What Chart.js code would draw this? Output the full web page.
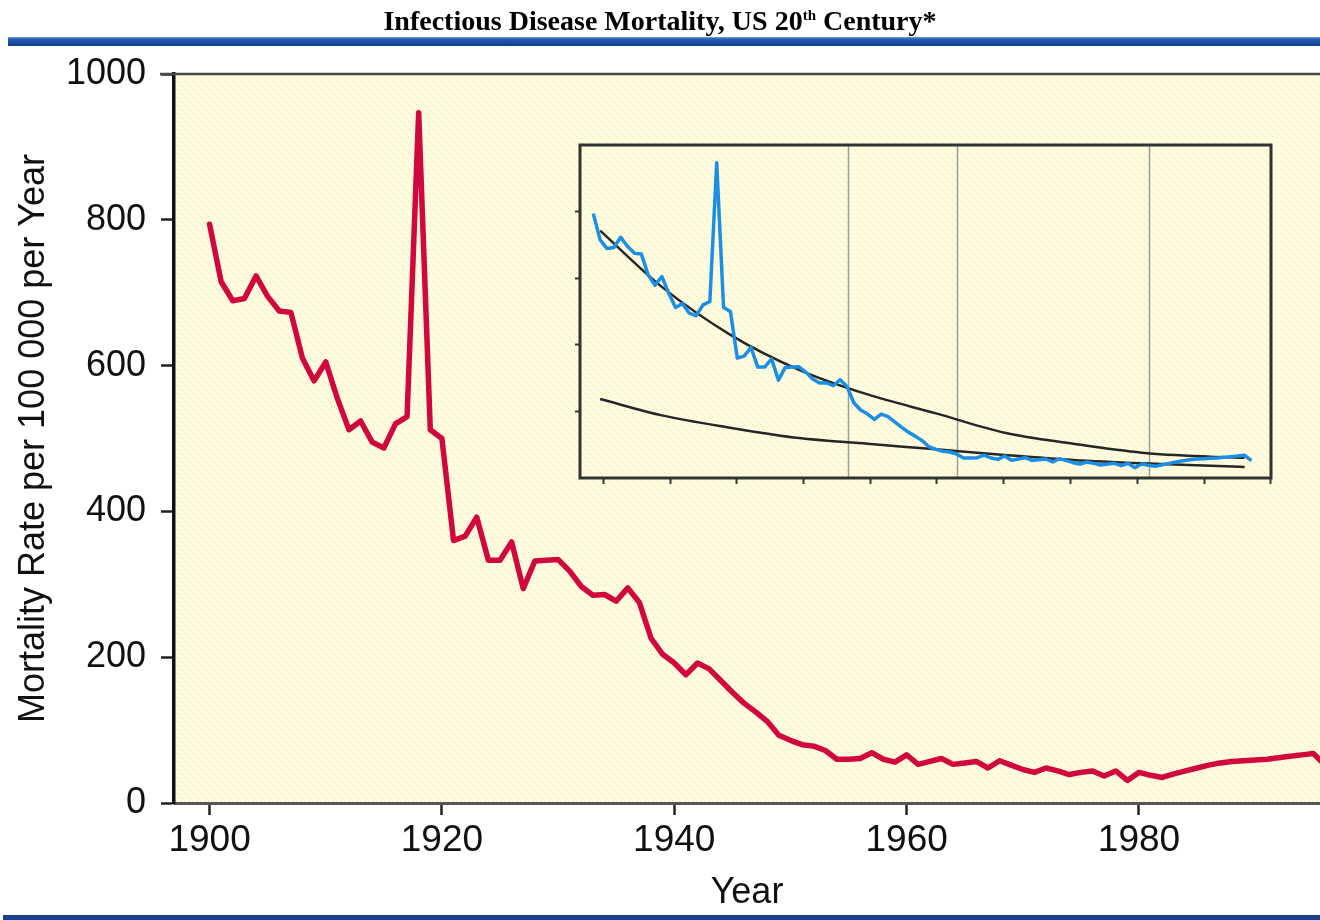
<!DOCTYPE html>
<html>
<head>
<meta charset="utf-8">
<script src="https://cdn.jsdelivr.net/npm/chart.js@4.4.1/dist/chart.umd.min.js"></script>
<style>
  html, body { margin: 0; padding: 0; background: #ffffff; width: 1320px; height: 920px; overflow: hidden; }
  #wrap { position: relative; width: 1320px; height: 920px; }
  #main { position: absolute; left: 0; top: 0; }
  #inset { position: absolute; left: 560px; top: 130px; }
  #title { position: absolute; left: 0; top: 5px; width: 1320px; text-align: center;
           font: bold 28px "Liberation Serif", "Times New Roman", serif; color: #000; line-height: 32px; }
  #title sup { font-size: 15px; line-height: 0; vertical-align: 10px; }
  #topbar { position: absolute; left: 8px; right: 0; top: 37px; height: 9px;
            background: linear-gradient(#7a9ed8 0, #2d5fba 22%, #1a4aa3 60%, #0f3b8e 100%); }
  #botbar { position: absolute; left: 3px; right: 0; top: 915px; height: 5px; background: #1c3f8e; }
</style>
</head>
<body>
<div id="wrap">
  <canvas id="main" width="1320" height="920"></canvas>
  <canvas id="inset" width="740" height="370"></canvas>
  <div id="title">Infectious Disease Mortality, US 20<sup>th</sup> Century*</div>
  <div id="topbar"></div>
  <div id="botbar"></div>
</div>
<script>
// ---------- data ----------
const years = [1900,1901,1902,1903,1904,1905,1906,1907,1908,1909,
               1910,1911,1912,1913,1914,1915,1916,1917,1918,1919,
               1920,1921,1922,1923,1924,1925,1926,1927,1928,1929,
               1930,1931,1932,1933,1934,1935,1936,1937,1938,1939,
               1940,1941,1942,1943,1944,1945,1946,1947,1948,1949,
               1950,1951,1952,1953,1954,1955,1956,1957,1958,1959,
               1960,1961,1962,1963,1964,1965,1966,1967,1968,1969,
               1970,1971,1972,1973,1974,1975,1976,1977,1978,1979,
               1980,1981,1982,1983,1984,1985,1986,1987,1988,1989,
               1990,1991,1992,1993,1994,1995,1996];
const mortality = [794,715,689,692,723,695,675,673,610,579,
                   605,555,512,524,495,487,520,530,947,512,
                   500,360,366,392,333,333,358,294,332,333,
                   334,318,297,285,286,277,295,275,226,204,
                   192,176,192,184,168,152,137,125,112,93,
                   86,80,78,72,60,60,61,69,60,56,
                   66,53,57,61,53,55,57,48,58,52,
                   46,42,48,44,39,42,44,37,44,31,
                   42,38,35,40,44,48,52,55,57,58,
                   59,60,62,64,66,68,52];
const xTickYears = [1900, 1920, 1940, 1960, 1980];
const yTickValues = [0, 200, 400, 600, 800, 1000];

// inset: fitted trend curves
const fitYears   = [1901, 1910, 1920, 1930, 1940, 1950, 1960, 1970, 1980, 1990, 1995];
const fitUpper   = [743, 574, 430, 325, 251, 194, 136, 103, 76, 64, 61];
const fitLower   = [237, 188, 151, 120, 103, 86, 69, 54, 44, 37, 33];
const insetTickYears = [1901.5, 1911.2, 1920.9, 1930.6, 1940.4, 1950.1, 1959.8, 1969.6, 1979.4, 1989.1, 1998.8];
const insetYTicks = [200, 400, 600, 800];
const insetMarkerYears = [1937.1, 1953.1, 1981.0];

// ---------- helpers ----------
const SANS = '"Liberation Sans", Arial, Helvetica, sans-serif';
function pts(xs, ys) { return xs.map((x, i) => ({ x: x, y: ys[i] })); }

function makePattern() {
  const c = document.createElement('canvas');
  c.width = 8; c.height = 8;
  const g = c.getContext('2d');
  g.fillStyle = '#fffedc';
  g.fillRect(0, 0, 8, 8);
  g.fillStyle = '#fbd3dc';
  [[0,0],[2,2],[5,1],[3,5],[6,6]].forEach(p => g.fillRect(p[0], p[1], 1, 1));
  return g.createPattern(c, 'repeat');
}
const pattern = makePattern();

const bgPlugin = {
  id: 'bgPlugin',
  beforeDraw(chart) {
    const { ctx, chartArea: a } = chart;
    ctx.save();
    ctx.fillStyle = pattern;
    ctx.fillRect(a.left, a.top, a.right - a.left, a.bottom - a.top);
    ctx.restore();
  },
  afterDraw(chart) {
    const { ctx, chartArea: a } = chart;
    ctx.save();
    ctx.strokeStyle = '#4a4a4a';
    ctx.lineWidth = 2.5;
    ctx.beginPath();
    ctx.moveTo(a.left - 14, a.top);
    ctx.lineTo(a.right, a.top);
    ctx.stroke();
    ctx.restore();
  }
};

new Chart(document.getElementById('main'), {
  type: 'line',
  data: {
    datasets: [{
      data: pts(years, mortality),
      borderColor: '#d0083d',
      borderWidth: 5.5,
      pointRadius: 0,
      tension: 0,
      borderJoinStyle: 'round',
      borderCapStyle: 'round'
    }]
  },
  options: {
    responsive: false,
    animation: false,
    devicePixelRatio: 1,
    layout: { padding: { top: 74, right: 0, left: 0, bottom: 0 } },
    plugins: { legend: { display: false }, tooltip: { enabled: false } },
    scales: {
      x: {
        type: 'linear',
        min: 1896.94,
        max: 1995.58,
        afterBuildTicks: s => { s.ticks = xTickYears.map(v => ({ value: v })); },
        afterFit: s => { s.height = 117; },
        ticks: { font: { family: SANS, size: 37 }, color: '#111', padding: 4, maxRotation: 0, autoSkip: false,
                 callback: v => String(v) },
        grid: { drawOnChartArea: false, drawTicks: true, tickLength: 12, tickWidth: 2.5, tickColor: '#222' },
        border: { display: true, color: '#555', width: 3 },
        title: { display: true, text: 'Year', font: { family: SANS, size: 36 }, color: '#111',
                 padding: { top: 0, bottom: 5 } }
      },
      y: {
        type: 'linear',
        min: 0,
        max: 1000,
        afterBuildTicks: s => { s.ticks = yTickValues.map(v => ({ value: v })); },
        afterFit: s => { s.width = 174; },
        ticks: { font: { family: SANS, size: 36 }, color: '#111', padding: 15, callback: v => String(v) },
        grid: { drawOnChartArea: false, drawTicks: true, tickLength: 13, tickWidth: 2.5, tickColor: '#222' },
        border: { display: true, color: '#111', width: 3.5 },
        title: { display: true, text: 'Mortality Rate per 100 000 per Year', font: { family: SANS, size: 36 },
                 color: '#111', padding: { top: 12, bottom: 0 } }
      }
    }
  },
  plugins: [bgPlugin]
});

// ---------- inset ----------
const insetPlugin = {
  id: 'insetPlugin',
  beforeDatasetsDraw(chart) {
    const { ctx, chartArea: a, scales } = chart;
    ctx.save();
    ctx.strokeStyle = '#93a19d';
    ctx.lineWidth = 1.5;
    insetMarkerYears.forEach(yr => {
      const px = Math.round(scales.x.getPixelForValue(yr)) + 0.5;
      ctx.beginPath();
      ctx.moveTo(px, a.top);
      ctx.lineTo(px, a.bottom);
      ctx.stroke();
    });
    ctx.restore();
  },
  afterDraw(chart) {
    const { ctx, chartArea: a } = chart;
    ctx.save();
    ctx.strokeStyle = '#333';
    ctx.lineWidth = 3;
    ctx.strokeRect(a.left, a.top, a.right - a.left, a.bottom - a.top);
    ctx.restore();
  }
};

new Chart(document.getElementById('inset'), {
  type: 'line',
  data: {
    datasets: [
      { data: pts(years, mortality), borderColor: '#1a8fe3', borderWidth: 3.5, pointRadius: 0, tension: 0,
        borderJoinStyle: 'round' },
      { data: pts(fitYears, fitUpper), borderColor: '#262626', borderWidth: 2.5, pointRadius: 0,
        cubicInterpolationMode: 'monotone' },
      { data: pts(fitYears, fitLower), borderColor: '#262626', borderWidth: 2.5, pointRadius: 0,
        cubicInterpolationMode: 'monotone' }
    ]
  },
  options: {
    responsive: false,
    animation: false,
    devicePixelRatio: 1,
    layout: { padding: { left: 15, top: 15, right: 29, bottom: 16 } },
    plugins: { legend: { display: false }, tooltip: { enabled: false } },
    scales: {
      x: {
        type: 'linear', min: 1898.06, max: 1998.85,
        afterBuildTicks: s => { s.ticks = insetTickYears.map(v => ({ value: v })); },
        afterFit: s => { s.height = 6; },
        ticks: { display: false },
        grid: { drawOnChartArea: false, drawTicks: true, tickLength: 6, tickWidth: 2, tickColor: '#333' },
        border: { display: false }
      },
      y: {
        type: 'linear', min: 0, max: 1000,
        afterBuildTicks: s => { s.ticks = insetYTicks.map(v => ({ value: v })); },
        afterFit: s => { s.width = 5; },
        ticks: { display: false },
        grid: { drawOnChartArea: false, drawTicks: true, tickLength: 5, tickWidth: 2, tickColor: '#333' },
        border: { display: false }
      }
    }
  },
  plugins: [insetPlugin]
});
</script>
</body>
</html>
